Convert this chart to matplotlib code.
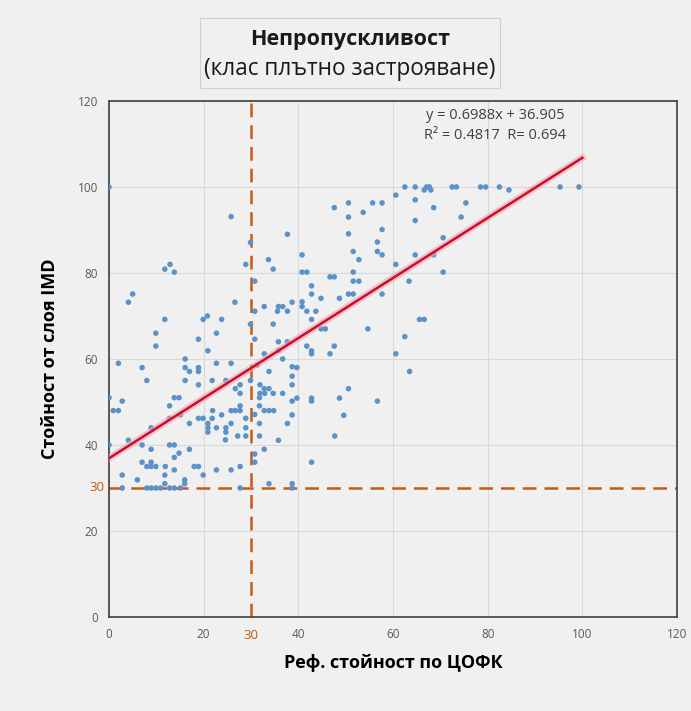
import numpy as np
import matplotlib
matplotlib.use("Agg")
import matplotlib.pyplot as plt
from matplotlib.patches import Rectangle

plt.rcParams['font.family'] = ['Open Sans', 'Noto Sans', 'DejaVu Sans']

# Реф. стойност по ЦОФК (x) и стойност от слоя IMD (y)
x_ref = [
    0, 62.5, 64.7, 66.6, 67.1, 67.7, 68.0, 72.5, 73.4, 78.5, 79.6, 82.5, 84.5, 95.3, 99.3,
    25.8, 37.7, 29.9, 11.8, 12.9, 13.8, 28.9, 33.7, 34.7, 30.8, 5.0, 4.1, 26.6, 30.8, 32.8,
    35.8, 36.7, 35.6, 37.7, 38.7, 11.8, 19.9, 20.8, 23.8, 29.9, 34.7, 9.9, 22.7, 18.9, 30.8,
    60.6, 64.7, 50.6, 55.7, 57.7, 47.6, 75.4, 68.6, 53.7, 50.6, 74.4, 64.7, 57.7, 50.6, 70.6,
    56.7, 51.6, 56.7, 57.7, 64.7, 68.6, 40.8, 52.8, 60.6, 40.8, 41.8, 51.6, 70.6, 46.7, 47.6,
    51.6, 52.8, 63.4, 42.8, 42.8, 50.6, 51.6, 57.7, 40.8, 40.8, 44.8, 48.7, 41.8, 43.7, 42.8,
    65.6, 66.6, 44.8, 45.7, 54.7, 62.5,
    9.9, 20.9, 35.8, 37.7, 2.0, 7.0, 8.0, 16.1, 16.1, 17.0, 18.9, 18.9, 18.9, 16.1, 22.7,
    25.8, 21.8, 24.7, 26.7, 27.7, 27.7, 31.3, 32.8, 33.8, 35.8, 36.7, 38.7, 29.9, 31.9, 32.8,
    33.8, 34.7, 36.7, 38.7, 32.9, 31.9,
    0, 2.8, 0.9, 2.0, 13.8, 14.8, 12.8, 12.8, 15.1, 17.0, 18.9, 19.9, 21.8, 20.9, 20.9,
    20.9, 22.7, 23.8, 24.7, 24.7, 25.8, 21.9, 25.8, 26.7, 27.7, 27.7, 28.9, 28.9, 30.8, 31.8,
    31.8, 32.8, 33.8, 34.8, 27.2, 28.9, 31.8, 31.8, 35.8, 37.7, 38.7, 0, 4.1, 7.0, 8.9,
    12.8, 13.8, 17.0, 14.8, 13.8, 7.0, 8.9, 8.9, 8.0, 9.9, 11.9, 13.8, 2.8, 6.0, 11.8,
    16.0, 16.0, 18.0, 18.9, 19.9, 22.7, 25.8, 27.7, 30.8, 30.8, 32.8, 2.8, 8.0, 8.9, 9.9,
    10.9, 11.8, 12.8, 13.8, 15.1, 27.7, 33.8, 38.7, 38.7, 8.9, 24.6,
    41.8, 42.8, 42.8, 46.7, 47.6, 60.6, 63.5, 39.7, 38.7, 50.6, 39.7, 38.7, 42.8, 42.8, 48.7,
    56.7, 49.6, 47.7, 42.8,
]
y_imd = [
    100, 100, 100, 99.3, 100, 100, 99.3, 100, 100, 100, 100, 100, 99.3, 100, 100,
    93.1, 89.0, 87.1, 80.9, 82.0, 80.2, 82.0, 83.1, 80.9, 78.1, 75.1, 73.2, 73.2, 71.1, 72.2,
    72.2, 72.2, 71.1, 71.1, 73.2, 69.2, 69.2, 70.0, 69.2, 68.1, 68.1, 66.0, 66.0, 64.6, 64.6,
    98.1, 97.0, 96.3, 96.3, 96.3, 95.2, 96.3, 95.2, 94.1, 93.0, 93.0, 92.2, 90.1, 89.1, 88.2,
    87.2, 85.0, 85.0, 84.2, 84.2, 84.2, 84.2, 83.1, 82.0, 80.2, 80.2, 80.2, 80.2, 79.1, 79.1,
    78.1, 78.1, 78.1, 77.0, 75.1, 75.1, 75.1, 75.1, 73.3, 72.2, 74.1, 74.1, 71.1, 71.1, 69.2,
    69.2, 69.2, 67.0, 67.0, 67.0, 65.2,
    63.0, 61.9, 64.0, 64.0, 59.0, 58.0, 55.0, 60.0, 58.0, 57.1, 58.0, 57.1, 54.0, 55.0, 59.0,
    59.0, 55.0, 55.0, 53.1, 52.0, 54.0, 58.6, 61.2, 57.1, 62.0, 60.0, 58.2, 55.0, 54.0, 53.1,
    53.1, 52.0, 52.0, 54.0, 52.0, 52.0,
    51.0, 50.2, 48.0, 48.0, 51.0, 51.0, 49.1, 46.2, 47.0, 45.0, 46.2, 46.2, 46.2, 45.0, 44.0,
    43.0, 44.0, 47.0, 44.0, 43.0, 45.0, 48.0, 48.0, 48.0, 49.1, 48.0, 46.2, 44.0, 47.1, 51.0,
    49.1, 48.0, 48.0, 48.0, 42.1, 42.1, 42.1, 45.0, 41.1, 45.0, 47.0, 40.0, 41.1, 40.0, 39.0,
    40.0, 40.0, 39.0, 38.1, 37.1, 36.0, 36.0, 35.0, 35.0, 35.0, 35.0, 34.2, 33.0, 31.9, 33.0,
    31.9, 31.0, 35.0, 35.0, 33.0, 34.2, 34.2, 35.0, 37.9, 36.0, 39.0, 30.0, 30.0, 30.0, 30.0,
    30.0, 31.0, 30.0, 30.0, 30.0, 30.0, 31.0, 31.0, 30.0, 44.0, 41.2,
    63.0, 61.9, 61.2, 61.2, 63.0, 61.2, 57.1, 58.0, 56.0, 53.1, 50.9, 50.2, 50.9, 50.2, 50.9,
    50.2, 46.9, 42.1, 36.0,
]

# линеен тренд (от графиката)
slope = 0.6988
intercept = 36.905
r2 = 0.4817
r = 0.694
threshold = 30

axis_ticks = [0, 20, 40, 60, 80, 100, 120]
bg = '#f0f0f0'
orange = '#c55a11'
tick_color = '#595959'

fig = plt.figure(figsize=(6.91, 7.11), dpi=100, facecolor=bg)
ax = fig.add_axes([0.1577, 0.1322, 0.822, 0.7258])
ax.set_facecolor(bg)

# рамка около заглавието
fig.patches.append(Rectangle((0.289, 0.876), 0.435, 0.099, transform=fig.transFigure,
                             facecolor=bg, edgecolor='#d0d0d0', linewidth=0.8))
fig.text(0.506, 0.944, 'Непропускливост', ha='center', va='center',
         fontsize=15.5, fontweight='bold', color='#1a1a1a')
fig.text(0.506, 0.903, '(клас плътно застрояване)', ha='center', va='center',
         fontsize=16.3, color='#1a1a1a')

ax.set_xlim(0, 120)
ax.set_ylim(0, 120)
ax.set_xticks(axis_ticks)
ax.set_yticks(axis_ticks)
ax.grid(True, color='#d9d9d9', linewidth=0.8)
ax.set_axisbelow(True)
ax.tick_params(length=0, labelsize=8.5, labelcolor=tick_color, pad=8)
for s in ax.spines.values():
    s.set_color('#404040')
    s.set_linewidth(1.2)

# прагове 30
ax.axvline(threshold, color=orange, linestyle=(0, (5.5, 3.2)), linewidth=1.8, zorder=2)
ax.axhline(threshold, color=orange, linestyle=(0, (5.5, 3.2)), linewidth=1.8, zorder=2)

ax.scatter(x_ref, y_imd, s=16, color='#5b93c9', edgecolors='none', zorder=3)

xl = np.array([0, 100])
ax.plot(xl, slope * xl + intercept, color='#f4a6b4', linewidth=5, alpha=0.6, zorder=4)
ax.plot(xl, slope * xl + intercept, color='#c8102e', linewidth=1.8, zorder=5)

ax.text(81.6, 116.7, f'y = {slope}x + {intercept}', ha='center', va='center',
        fontsize=10.5, color='#404040')
ax.text(81.6, 111.9, f'R² = {r2}  R= {r}', ha='center', va='center',
        fontsize=10.5, color='#404040')

ax.text(-1.0, threshold, '30', ha='right', va='center', fontsize=9.5, color=orange)
ax.text(threshold, -2.8, '30', ha='center', va='top', fontsize=9.5, color=orange)

ax.set_xlabel('Реф. стойност по ЦОФК', fontsize=13, fontweight='bold', labelpad=9)
ax.set_ylabel('Стойност от слоя IMD', fontsize=13, fontweight='bold', labelpad=13)

fig.savefig('out.png', dpi=100, facecolor=bg)
